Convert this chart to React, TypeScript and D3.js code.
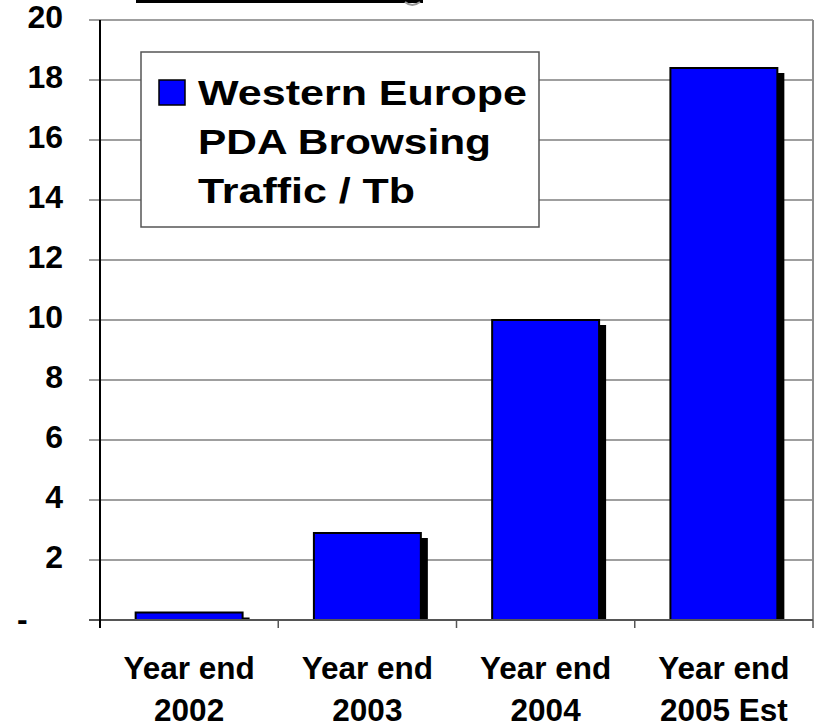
import React, { useEffect, useRef } from 'react'
import * as d3 from 'd3'

const categories = ['Year end|2002', 'Year end|2003', 'Year end|2004', 'Year end|2005 Est']
const values = [0.25, 2.9, 10.0, 18.4]
const yTicks = [0, 2, 4, 6, 8, 10, 12, 14, 16, 18, 20]
const legendLines = ['Western Europe', 'PDA Browsing', 'Traffic / Tb']
const legendWidths = [329, 293, 217]

const W = 819
const H = 727
const FONT = '"Liberation Sans", Arial, sans-serif'

export default function App () {
    const ref = useRef<SVGSVGElement>(null)

    useEffect(() => {
        const svg = d3.select(ref.current)
        svg.selectAll('*').remove()

        const left = 100, right = 813, top = 20, bottom = 620

        const x = d3.scaleBand<string>()
            .domain(categories)
            .range([left, right])
            .paddingInner(0.4)
            .paddingOuter(0.2)

        const y = d3.scaleLinear().domain([0, 20]).range([bottom, top])

        // title remnant clipped at top
        svg.append('rect').attr('x', 136).attr('y', -10).attr('width', 287).attr('height', 13).attr('fill', '#000')
        svg.append('path').attr('d', 'M405,2 Q412,8 420,2').attr('fill', 'none').attr('stroke', '#999').attr('stroke-width', 2)

        // grid lines
        svg.append('g').selectAll('line').data(yTicks).join('line')
            .attr('x1', left - 11).attr('x2', right)
            .attr('y1', d => y(d)).attr('y2', d => y(d))
            .attr('stroke', '#7f7f7f').attr('stroke-width', 1.5)

        // right border
        svg.append('line').attr('x1', right).attr('x2', right).attr('y1', top).attr('y2', bottom)
            .attr('stroke', '#8c8c8c').attr('stroke-width', 2)

        // bars with shadow
        const bars = svg.append('g')
        categories.forEach((c, i) => {
            const bx = x(c) as number
            const by = y(values[i])
            const sh = bottom - (by + 5)
            if (sh > 0) {
                bars.append('rect').attr('x', bx + 7).attr('y', by + 5)
                    .attr('width', x.bandwidth()).attr('height', sh).attr('fill', '#000')
            }
            bars.append('rect').attr('x', bx).attr('y', by)
                .attr('width', x.bandwidth()).attr('height', bottom - by)
                .attr('fill', '#0000ff').attr('stroke', '#000').attr('stroke-width', 2)
        })

        // bottom axis line
        svg.append('line').attr('x1', left - 11).attr('x2', right).attr('y1', bottom).attr('y2', bottom)
            .attr('stroke', '#555').attr('stroke-width', 2)

        // category ticks
        const bounds = categories.map(c => x(c) as number - x.step() * x.paddingInner() / 2)
        bounds[0] = left
        bounds.push(right)
        svg.append('g').selectAll('line').data(bounds).join('line')
            .attr('x1', d => d).attr('x2', d => d).attr('y1', bottom).attr('y2', bottom + 8)
            .attr('stroke', '#555').attr('stroke-width', 1.5)

        // left axis
        svg.append('line').attr('x1', left).attr('x2', left).attr('y1', top).attr('y2', bottom + 8)
            .attr('stroke', '#000').attr('stroke-width', 2)

        // y labels
        svg.append('g').selectAll('text').data(yTicks).join('text')
            .attr('x', d => d === 0 ? 17 : 63)
            .attr('y', d => y(d) + 8 + (d === 0 ? 2 : 0))
            .attr('text-anchor', d => d === 0 ? 'start' : 'end')
            .attr('font-family', FONT).attr('font-weight', 'bold').attr('font-size', 32)
            .text(d => d === 0 ? '-' : String(d))

        // x labels
        const xl = svg.append('g')
        categories.forEach(c => {
            const cx = (x(c) as number) + x.bandwidth() / 2
            c.split('|').forEach((t, j) => {
                xl.append('text').attr('x', cx).attr('y', 679 + j * 42)
                    .attr('text-anchor', 'middle')
                    .attr('font-family', FONT).attr('font-weight', 'bold').attr('font-size', 31.5)
                    .text(t)
            })
        })

        // legend
        const lg = svg.append('g')
        lg.append('rect').attr('x', 141).attr('y', 52).attr('width', 398).attr('height', 175)
            .attr('fill', '#fff').attr('stroke', '#555').attr('stroke-width', 1.5)
        lg.append('rect').attr('x', 159).attr('y', 80).attr('width', 26).attr('height', 25)
            .attr('fill', '#0000ff').attr('stroke', '#000').attr('stroke-width', 1.5)
        legendLines.forEach((t, i) => {
            lg.append('text').attr('x', 198).attr('y', 105 + i * 49)
                .attr('font-family', FONT).attr('font-weight', 'bold').attr('font-size', 35)
                .attr('textLength', legendWidths[i]).attr('lengthAdjust', 'spacingAndGlyphs')
                .text(t)
        })
    }, [])

    return (
        <svg ref={ref} width={W} height={H} style={{ position: 'absolute', left: 0, top: 0, background: '#fff' }} />
    )
}
